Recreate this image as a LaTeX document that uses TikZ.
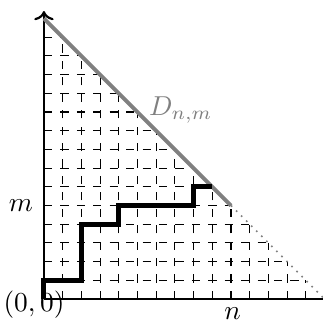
\documentclass[tikz,border=0pt]{standalone}
\usepackage{amsmath}
\usetikzlibrary{arrows.meta, positioning}

\begin{document}
\begin{tikzpicture}[
  x=0.24cm, y=0.24cm,
  axis/.style={thick},
  gridline/.style={dashed, thin},
  walk/.style={line width=1.8pt},
  diag/.style={gray, line width=1.4pt},
  tail/.style={gray, dotted, line width=0.6pt}
]
\useasboundingbox (-2.35,-1.28) rectangle (14.92,15.99);
\coordinate (O) at (0,0);
\coordinate (Ytop) at (0,15.4);
\coordinate (Xend) at (15,0);
\coordinate (Top) at (0,15);
\coordinate (Mid) at (10,5);

% lattice inside the triangle
\foreach \i in {1,...,14} {
  \draw[gridline] (\i,0) -- (\i,{15-\i});
  \draw[gridline] (0,\i) -- ({15-\i},\i);
}

\draw[axis, ->] (O) -- (Ytop);
\draw[axis] (O) -- (Xend);

\draw[diag] (Top) -- (Mid);
\draw[tail] (Mid) -- (Xend);

\draw[walk] (O) -- (0,1) -- (2,1) -- (2,4) -- (4,4) -- (4,5) -- (8,5) -- (8,6) -- (9,6);

\node (orig) at (-0.53,-0.3) {$(0,0)$};
\node (m) at (-1.23,5) {$m$};
\node (n) at (10.08,-0.8) {$n$};
\node[gray, right] (D) at (5.1,10.1) {$D_{n,m}$};
\end{tikzpicture}
\end{document}
